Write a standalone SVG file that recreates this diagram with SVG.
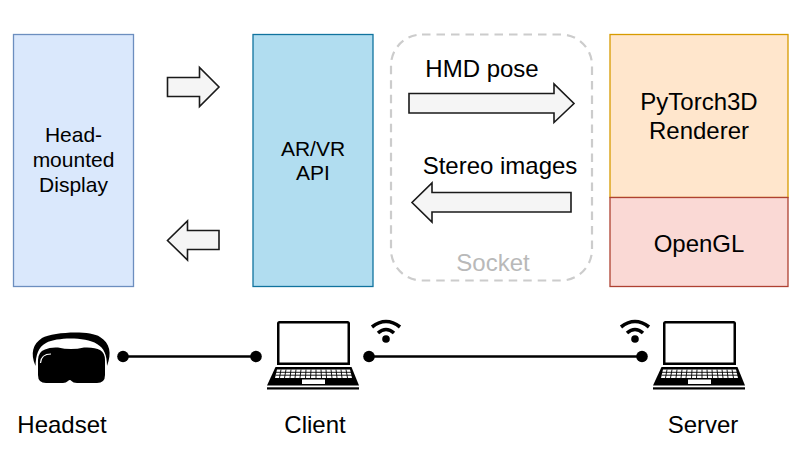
<svg xmlns="http://www.w3.org/2000/svg" xmlns:xlink="http://www.w3.org/1999/xlink" width="803" height="452" viewBox="0 0 803 452">
<style>
text{font-family:"Liberation Sans",Arial,sans-serif;fill:#000;text-anchor:middle}
.box{stroke-width:1.3}
.ar{fill:#f5f5f5;stroke:#1a1a1a;stroke-width:1.6;stroke-linejoin:miter}
.ln{stroke:#000;stroke-width:2.6;fill:none}
.t24{font-size:24px}.t21{font-size:21px}
</style>
<defs>
<g id="laptop">
<path d="M279.500 321H347.500Q350 321 350 323.500V365H277V323.500Q277 321 279.500 321ZM279.500 323.500V362.500H347.500V323.500Z" fill="#000" fill-rule="evenodd"/>
<path d="M275.500 367H351.500L359 385.500H267Z" fill="#000"/>
<path d="M277 369.500H350L352 378H275Z" fill="#fff"/>
<g stroke="#000" stroke-width="0.9"><path d="M276 372.300H351M275.500 375.200H352"/><path d="M281 369.500L279.500 378M286 369.500L284.500 378M291 369.500L290 378M296 369.500L295 378M301 369.500L300 378M306 369.500L305.500 378M311 369.500L310.500 378M316 369.500L316 378M321 369.500L321.500 378M326 369.500L326.500 378M331 369.500L332 378M336 369.500L337 378M341 369.500L342 378M346 369.500L347.500 378"/></g>
<rect x="302" y="379.500" width="23" height="4.500" fill="#fff"/>
<rect x="267" y="387.300" width="92" height="2.200" fill="#000"/>
</g>
<g id="wifi">
<circle cx="0" cy="0" r="3.800" fill="#000"/>
<path d="M-8 -6Q0 -13 8 -6" fill="none" stroke="#000" stroke-width="3.600"/>
<path d="M-14 -12Q0 -23 14 -12" fill="none" stroke="#000" stroke-width="3.600"/>
</g>
</defs>

<g id="hmd"><rect class="box" x="13.500" y="34.500" width="120" height="252" fill="#dae8fc" stroke="#6c8ebf"/>
<text class="t21" x="73.500" y="142">Head-</text><text class="t21" x="73.500" y="167">mounted</text><text class="t21" x="73.500" y="192">Display</text></g>
<g id="api"><rect class="box" x="253" y="34.500" width="120" height="252" fill="#b1ddf0" stroke="#10739e"/>
<text class="t21" x="313" y="156">AR/VR</text><text class="t21" x="313" y="180">API</text></g>
<g id="socket"><rect x="391" y="34.500" width="201" height="246" rx="31" ry="31" fill="none" stroke="#cccccc" stroke-width="2.200" stroke-dasharray="8.500 6"/>
<text class="t24" x="493" y="271" style="fill:#b9b9b9">Socket</text></g>
<g id="renderer"><rect class="box" x="610" y="34.500" width="178" height="163" fill="#ffe6cc" stroke="#d79b00"/>
<text class="t24" x="699" y="110">PyTorch3D</text><text class="t24" x="699" y="139">Renderer</text></g>
<g id="opengl"><rect class="box" x="610" y="197.500" width="178" height="89" fill="#fad9d5" stroke="#ae4132"/>
<text class="t24" x="699" y="252">OpenGL</text></g>

<g id="flow-arrows">
<path class="ar" d="M167.500 77.500H199.500V67.500L219 87L199.500 106.500V96.500H167.500Z"/>
<path class="ar" d="M219 230.500H187.500V221L167.500 240.500L187.500 260V249.500H219Z"/>
<path class="ar" d="M409 93.500H554V84L574 103.500L554 122.500V113H409Z"/>
<path class="ar" d="M571 192.500H432V183L412 202.500L432 222V212H571Z"/>
</g>
<text class="t24" x="482" y="77">HMD pose</text>
<text class="t24" x="500" y="174">Stereo images</text>

<g id="connectors">
<path class="ln" d="M123 356.500H256"/><circle cx="123" cy="356.500" r="5.800"/><circle cx="256" cy="356.500" r="5.800"/>
<path class="ln" d="M369 356.500H642"/><circle cx="369" cy="356.500" r="5.800"/><circle cx="642" cy="356.500" r="5.800"/>
</g>

<g id="headset">
<path d="M35.500 366C30 353 33 344 42 338C53 332 90 330 100 337C110 343 112 353 107 366C107 355 104 348 97 344C85 337 58 337 46 343C38 347 36 355 35.500 366Z" fill="#000"/>
<path d="M45 349.500Q50 347 58 347.500Q71 350.500 84 347.500Q95 347 100 350Q105 353 105 360V375Q105 383 97 383H77Q73 383 71.500 381Q70 379 68 381Q66 383 63 383H46Q38 383 38 375V360Q38 352 45 349.500Z" fill="#000"/>
<path d="M40.500 363Q41 354 51 354" fill="none" stroke="#fff" stroke-width="1.200"/>
<text class="t24" x="62" y="433">Headset</text></g>
<g id="client"><use xlink:href="#laptop"/><use xlink:href="#wifi" x="386" y="339"/><text class="t24" x="315" y="433">Client</text></g>
<g id="server"><use xlink:href="#laptop" x="386"/><use xlink:href="#wifi" x="635" y="339"/><text class="t24" x="703" y="433">Server</text></g>
</svg>
